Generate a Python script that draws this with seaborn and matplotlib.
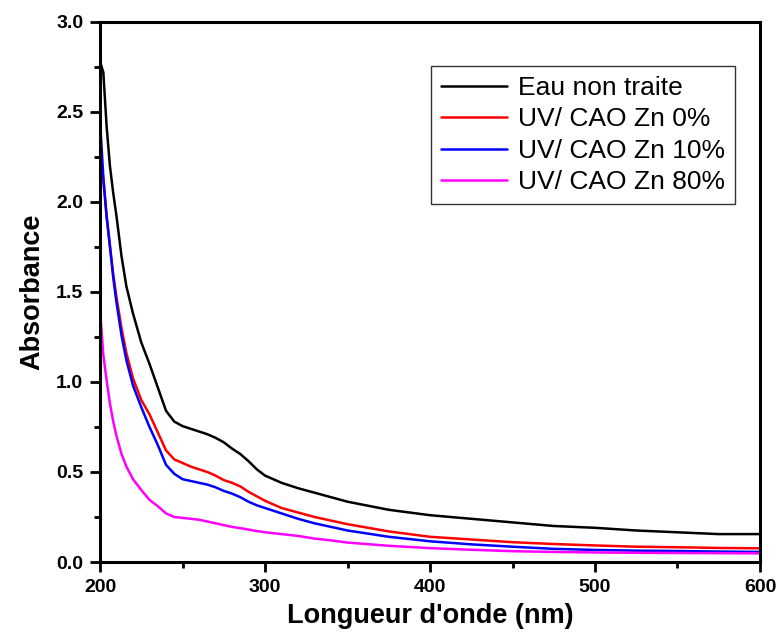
import matplotlib
matplotlib.use("Agg")
import matplotlib.pyplot as plt
from matplotlib.ticker import MultipleLocator, FormatStrFormatter
import seaborn as sns
import pandas as pd

wavelength = [200, 202, 204, 206, 208, 210, 213, 216, 220, 225, 230, 235, 240, 245,
              250, 255, 260, 265, 270, 275, 280, 285, 290, 295, 300, 310, 320, 330,
              340, 350, 375, 400, 425, 450, 475, 500, 525, 550, 575, 600]

eau_non_traite = [2.78, 2.72, 2.42, 2.20, 2.05, 1.92, 1.70, 1.53, 1.38, 1.22, 1.10, 0.97,
                  0.84, 0.78, 0.755, 0.74, 0.725, 0.71, 0.69, 0.665, 0.63, 0.60, 0.56,
                  0.515, 0.48, 0.44, 0.41, 0.385, 0.36, 0.335, 0.29, 0.26, 0.24, 0.22,
                  0.20, 0.19, 0.175, 0.165, 0.155, 0.155]

zn_0 = [2.30, 2.12, 1.92, 1.75, 1.60, 1.47, 1.30, 1.16, 1.02, 0.90, 0.82, 0.72, 0.62,
        0.57, 0.55, 0.53, 0.515, 0.50, 0.48, 0.455, 0.44, 0.42, 0.39, 0.365, 0.34,
        0.30, 0.275, 0.25, 0.23, 0.21, 0.17, 0.14, 0.125, 0.11, 0.10, 0.092, 0.085,
        0.082, 0.078, 0.076]

zn_10 = [2.45, 2.14, 1.92, 1.76, 1.58, 1.44, 1.26, 1.12, 0.98, 0.86, 0.75, 0.65, 0.54,
         0.49, 0.46, 0.45, 0.44, 0.43, 0.415, 0.395, 0.38, 0.36, 0.335, 0.315, 0.30,
         0.27, 0.24, 0.215, 0.195, 0.175, 0.14, 0.115, 0.098, 0.085, 0.073, 0.067,
         0.063, 0.061, 0.058, 0.056]

zn_80 = [1.40, 1.15, 1.01, 0.88, 0.78, 0.70, 0.60, 0.53, 0.46, 0.40, 0.345, 0.31, 0.27,
         0.25, 0.245, 0.24, 0.235, 0.225, 0.215, 0.205, 0.195, 0.188, 0.18, 0.172,
         0.165, 0.155, 0.145, 0.13, 0.12, 0.108, 0.09, 0.077, 0.068, 0.06, 0.056,
         0.053, 0.051, 0.05, 0.049, 0.048]

labels = ["Eau non traite", "UV/ CAO Zn 0%", "UV/ CAO Zn 10%", "UV/ CAO Zn 80%"]
colors = ["black", "#ff0000", "#0000ff", "#ff00ff"]

frames = []
for lab, vals in zip(labels, [eau_non_traite, zn_0, zn_10, zn_80]):
    frames.append(pd.DataFrame({"wl": wavelength, "abs": vals, "echantillon": lab}))
df = pd.concat(frames)

sns.set_style("white")
plt.rcParams["font.family"] = ["Liberation Sans", "DejaVu Sans"]
plt.rcParams["text.color"] = "black"
plt.rcParams["axes.labelcolor"] = "black"
plt.rcParams["xtick.color"] = "black"
plt.rcParams["ytick.color"] = "black"

fig = plt.figure(figsize=(7.79, 6.39), dpi=100)
ax = fig.add_axes([0.1284, 0.1205, 0.8472, 0.8451])

sns.lineplot(data=df, x="wl", y="abs", hue="echantillon",
             palette=dict(zip(labels, colors)), linewidth=1.8, ax=ax,
             estimator=None, sort=False)

ax.set_xlim(200, 600)
ax.set_ylim(0, 3.0)
ax.xaxis.set_major_locator(MultipleLocator(100))
ax.xaxis.set_minor_locator(MultipleLocator(50))
ax.yaxis.set_major_locator(MultipleLocator(0.5))
ax.yaxis.set_minor_locator(MultipleLocator(0.25))
ax.yaxis.set_major_formatter(FormatStrFormatter("%.1f"))

for s in ax.spines.values():
    s.set_linewidth(2.2)
    s.set_color("black")
ax.tick_params(which="major", direction="out", length=7, width=2, labelsize=14,
               bottom=True, left=True, top=False, right=False, pad=5)
ax.tick_params(which="minor", direction="out", length=4, width=2,
               bottom=True, left=True, top=False, right=False)
for t in ax.get_xticklabels() + ax.get_yticklabels():
    t.set_fontweight("bold")

ax.set_xlabel("Longueur d'onde (nm)", fontsize=19.5, fontweight="bold", labelpad=5)
ax.set_ylabel("Absorbance", fontsize=19.5, fontweight="bold", labelpad=8)

leg = ax.legend(loc="upper right", bbox_to_anchor=(0.962, 0.9185), borderaxespad=0,
                fontsize=19, frameon=True, fancybox=False, handlelength=2.5,
                handletextpad=0.4, borderpad=0.38, labelspacing=0.28)
leg.get_frame().set_edgecolor("black")
leg.get_frame().set_linewidth(1.0)

fig.savefig("out.png", dpi=100)
